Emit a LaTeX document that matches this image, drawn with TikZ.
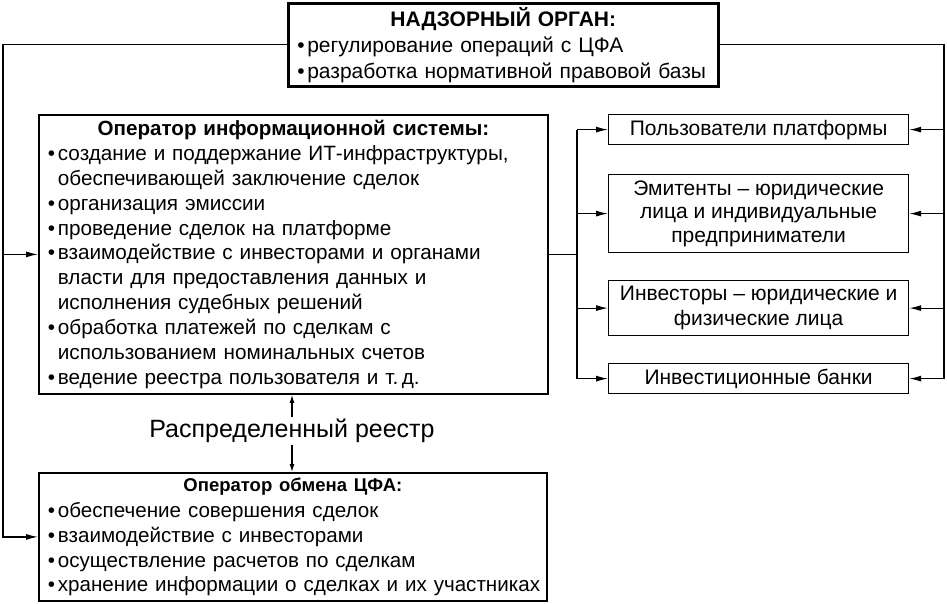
\documentclass[tikz,border=0pt]{standalone}
\usepackage{fontspec}
\setmainfont{Liberation Sans}
\usetikzlibrary{arrows.meta,calc}
\newcommand\itm{\par\noindent\hangindent=10pt\hangafter=1\makebox[10pt][l]{\textbullet}}
\newcommand\lst{\par\raggedright\leftskip=5pt\relax}
\begin{document}
\begin{tikzpicture}[x=1pt,y=-1pt,
  every node/.style={font=\fontsize{21}{24.8}\selectfont, text=black},
  listbox/.style={draw, anchor=north west, inner xsep=4pt, inner ysep=0pt, align=left},
  sidebox/.style={draw, line width=1.2pt, anchor=north west, minimum width=300pt, align=center, inner sep=0pt},
  conn/.style={line width=1.2pt},
  arr/.style={line width=1.2pt, -{Latex[length=12pt,width=6pt]}},
  varr/.style={line width=1.2pt, -{Latex[length=8pt,width=5pt]}}]
\path[use as bounding box] (0,0) rectangle (947,603);

% top box
\node[listbox, line width=2.6pt, text width=422pt, minimum height=83pt, font=\fontsize{21}{26}\selectfont] (top) at (287,2)
 {\centering\textbf{НАДЗОРНЫЙ ОРГАН:}\lst
  \itm регулирование операций с ЦФА
  \itm разработка нормативной правовой базы\par};

% main box
\node[listbox, line width=1.8pt, text width=501pt, minimum height=279pt, font=\fontsize{20.7}{24.9}\selectfont] (main) at (38,114)
 {\centering\textbf{\fontsize{20.6}{24.9}\selectfont Оператор информационной системы:}\lst
  \itm создание и поддержание ИТ-инфраструктуры,\newline обеспечивающей заключение сделок
  \itm организация эмиссии
  \itm проведение сделок на платформе
  \itm взаимодействие с инвесторами и органами\newline власти для предоставления данных и\newline исполнения судебных решений
  \itm обработка платежей по сделкам с\newline использованием номинальных счетов
  \itm ведение реестра пользователя и т.\,д.\par};

% bottom box
\node[listbox, line width=1.8pt, text width=500pt, minimum height=128pt, font=\fontsize{20.6}{24.7}\selectfont] (bot) at (38,472)
 {\centering\textbf{\fontsize{18.5}{24.7}\selectfont Оператор обмена ЦФА:}\par\vspace{2pt}\lst
  \itm обеспечение совершения сделок
  \itm взаимодействие с инвесторами
  \itm осуществление расчетов по сделкам
  \itm хранение информации о сделках и их участниках\par};

% side boxes
\node[sidebox, minimum height=30pt] (b1) at (608,114) {Пользователи платформы};
\node[sidebox, minimum height=78pt, font=\fontsize{21}{23.5}\selectfont] (b2) at (608,174) {Эмитенты – юридические\\лица и индивидуальные\\предприниматели};
\node[sidebox, minimum height=55pt, font=\fontsize{21}{25}\selectfont] (b3) at (608,280) {Инвесторы – юридические и\\физические лица};
\node[sidebox, minimum height=30pt] (b4) at (608,363) {Инвестиционные банки};

% distributed ledger label
\node[font=\fontsize{25}{28}\selectfont, inner xsep=2pt, inner ysep=1.5pt] (reg) at (292,431) {Распределенный реестр};

% coordinates for connector columns
\coordinate (lx) at (3,0);
\coordinate (rx) at (944,0);
\coordinate (mx) at (577,0);

% left connectors
\draw[arr] (top.west) -| (lx |- bot.west) -- (bot.west);
\draw[arr] (lx |- main.west) -- (main.west);

% right connectors
\draw[conn] (top.east) -| (rx |- b4.east);
\foreach \b in {b1,b2,b3,b4} \draw[arr] (rx |- \b.east) -- (\b.east);

% main to side boxes
\draw[conn] (main.east) -- (mx |- main.east);
\draw[conn] (mx |- b1.west) -- (mx |- b4.west);
\foreach \b in {b1,b2,b3,b4} \draw[arr] (mx |- \b.west) -- (\b.west);

% vertical arrows
\draw[varr] (reg.north) -- (reg.north |- main.south);
\draw[varr] (reg.south) -- (reg.south |- bot.north);
\end{tikzpicture}
\end{document}
